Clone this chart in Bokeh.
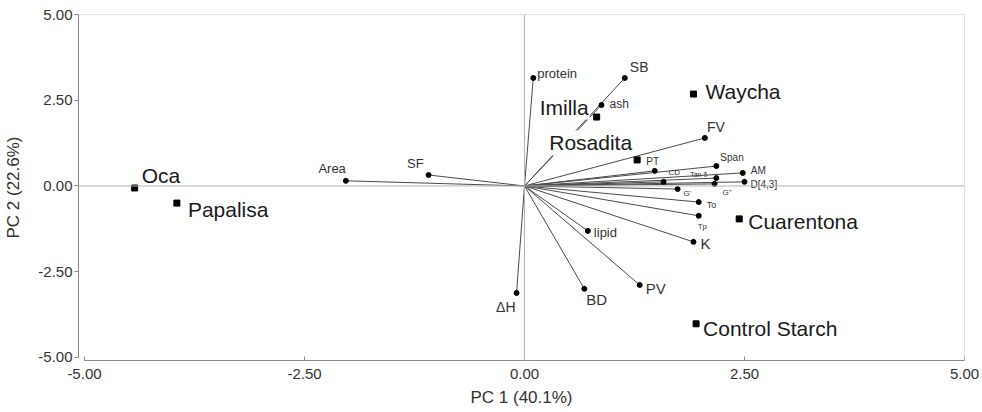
from bokeh.plotting import figure
from bokeh.models import ColumnDataSource, Range1d, FixedTicker, NumeralTickFormatter, Span
from bokeh.embed import file_html
from bokeh.resources import INLINE
from bokeh.core.properties import value

# ---- data ----
cultivars = ["Oca", "Papalisa", "Imilla", "Rosadita", "Waycha", "Cuarentona", "Control Starch"]
cult_pc1 = [-4.43, -3.95, 0.82, 1.28, 1.92, 2.44, 1.95]
cult_pc2 = [-0.06, -0.50, 2.01, 0.76, 2.68, -0.96, -4.02]

variables = ["protein", "SB", "ash", "FV", "PT", "CD", "Tan δ", "Span", "AM", "D[4,3]",
             "G''", "G'", "To", "Tp", "K", "lipid", "PV", "BD", "ΔH", "Area", "SF"]
var_pc1 = [0.10, 1.14, 0.875, 2.05, 1.48, 1.58, 2.18, 2.18, 2.48, 2.50,
           2.16, 1.74, 1.98, 1.98, 1.92, 0.72, 1.31, 0.68, -0.09, -2.03, -1.09]
var_pc2 = [3.15, 3.15, 2.36, 1.40, 0.44, 0.12, 0.23, 0.58, 0.38, 0.12,
           0.06, -0.09, -0.47, -0.87, -1.63, -1.31, -2.89, -3.00, -3.12, 0.15, 0.32]

tick_values = [-5, -2.5, 0, 2.5, 5]
x_title = "PC 1 (40.1%)"
y_title = "PC 2 (22.6%)"

# ---- label styling (pixel offsets, alignment, sizes) ----
cult_dx = [6, 10, -7, -4, 11, 8, 6]
cult_dy = [-13, 6, -10, -17, -3, 3, 5]
cult_align = ["left", "left", "right", "right", "left", "left", "left"]

var_dx = [4, 5, 8, 2, -2, 5, -9, 4, 8, 6, 8, 6, 8, -1, 7, 6, 6, 2, -1, 0, -5]
var_dy = [-4, -11, -1, -11, -9, -9, -4, -9, -2, 3, 9, 4, 3, 11, 2, 2, 3, 11, 14, -12, -11]
var_align = ["left", "left", "left", "left", "center", "left", "right", "left", "left", "left",
             "left", "left", "left", "left", "left", "left", "left", "left", "right", "right", "right"]
var_size = ["13px", "14px", "12px", "14px", "10px", "8px", "7px", "10px", "10px", "10px",
            "8px", "8px", "9px", "8px", "15px", "13px", "15px", "15px", "14px", "13px", "13px"]

FONT = "Liberation Sans"

cult_src = ColumnDataSource(dict(x=cult_pc1, y=cult_pc2, name=cultivars,
                                 dx=cult_dx, dy=cult_dy, align=cult_align))
var_src = ColumnDataSource(dict(x=var_pc1, y=var_pc2, name=variables,
                                dx=var_dx, dy=var_dy, align=var_align, size=var_size))

p = figure(frame_width=886, frame_height=346,
           x_range=Range1d(-5.068, 5), y_range=Range1d(-5.09, 5),
           output_backend="svg", toolbar_location=None,
           min_border_left=78, min_border_right=18, min_border_top=14, min_border_bottom=50)
p.outline_line_color = None
p.grid.visible = False
p.background_fill_color = "white"

# reference lines
for loc, dim, col in [(0, "width", "#b4b4b4"), (0, "height", "#b4b4b4"),
                      (5, "width", "#c8c8c8"), (5, "height", "#c8c8c8")]:
    p.add_layout(Span(location=loc, dimension=dim, line_color=col, line_width=1))

# loading vectors
p.segment(x0=0, y0=0, x1="x", y1="y", source=var_src, line_color="#4a4a4a", line_width=1)
p.scatter(x="x", y="y", source=var_src, size=5, color="black")
p.text(x="x", y="y", text="name", source=var_src, x_offset="dx", y_offset="dy",
       text_align="align", text_baseline="middle", text_font_size="size",
       text_font=value(FONT), text_color="#333333")

# cultivar scores
p.scatter(x="x", y="y", source=cult_src, marker="square", size=6, color="black")
p.text(x="x", y="y", text="name", source=cult_src, x_offset="dx", y_offset="dy",
       text_align="align", text_baseline="middle", text_font_size="21px",
       text_font=value(FONT), text_color="#1a1a1a",
       background_fill_color="white", padding=1)

# axes
for ax in (p.xaxis[0], p.yaxis[0]):
    ax.ticker = FixedTicker(ticks=tick_values)
    ax.formatter = NumeralTickFormatter(format="0.00")
    ax.bounds = (-5, 5)
    ax.minor_tick_line_color = None
    ax.axis_line_color = "#8a8a8a"
    ax.major_tick_line_color = "#8a8a8a"
    ax.major_label_text_font = FONT
    ax.major_label_text_font_size = "15px"
    ax.major_label_text_color = "#333333"
    ax.axis_label_text_font = FONT
    ax.axis_label_text_font_size = "17px"
    ax.axis_label_text_font_style = "normal"
    ax.axis_label_text_color = "#333333"

p.xaxis.axis_label = x_title
p.yaxis.axis_label = y_title
p.xaxis.major_tick_in = 4
p.xaxis.major_tick_out = 0
p.xaxis.major_label_standoff = 8
p.xaxis.axis_label_standoff = 6
p.yaxis.major_tick_in = 0
p.yaxis.major_tick_out = 4
p.yaxis.major_label_standoff = 2
p.yaxis.axis_label_standoff = 12

open("out.html", "w").write(file_html(p, INLINE))
